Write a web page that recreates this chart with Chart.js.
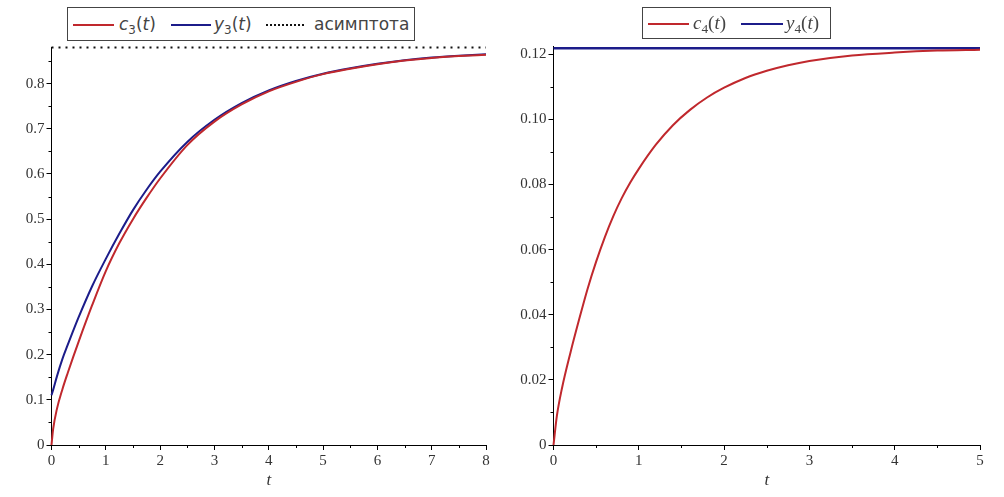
<!DOCTYPE html>
<html><head><meta charset="utf-8">
<script src="https://cdn.jsdelivr.net/npm/chart.js@4"></script>
<style>
html,body{margin:0;padding:0;background:#fff;}
#wrap{position:relative;width:1004px;height:497px;overflow:hidden;background:#fff;}
.cv{position:absolute;top:0;height:497px;}
.legend{position:absolute;border:1px solid #444;background:#fff;box-sizing:border-box;color:#444;}
.legend span{position:absolute;top:0;white-space:nowrap;}
.sw{position:absolute;height:0;border-top:2px solid;}
.dots{position:absolute;height:0;border-top:2px dotted #111;}
.sans{font-family:"DejaVu Sans",sans-serif;font-size:17px;}
.serif{font-family:"Liberation Serif","Times New Roman","DejaVu Serif",serif;font-size:19px;}
i{font-style:italic;}
sub{font-size:70%;vertical-align:-0.3em;line-height:0;}
</style></head>
<body><div id="wrap">
<div class="cv" style="left:0;width:500px"><canvas id="c1"></canvas></div>
<div class="cv" style="left:500px;width:504px"><canvas id="c2"></canvas></div>
<div class="legend" style="left:67px;top:7px;width:348px;height:34px;">
  <div class="sw" style="left:5px;width:41px;top:16px;border-color:#c0282d"></div>
  <span class="sans" style="left:51px;line-height:32px"><i>c</i><sub>3</sub>(<i>t</i>)</span>
  <div class="sw" style="left:103px;width:40px;top:16px;border-color:#1c1c8a"></div>
  <span class="sans" style="left:146px;line-height:32px"><i>y</i><sub>3</sub>(<i>t</i>)</span>
  <div class="dots" style="left:198px;width:38px;top:16px"></div>
  <span class="sans" style="left:246px;line-height:32px">асимптота</span>
</div>
<div class="legend" style="left:642px;top:7px;width:189px;height:32px;">
  <div class="sw" style="left:5px;width:41px;top:15px;border-color:#c0282d"></div>
  <span class="serif" style="left:50px;line-height:30px"><i>c</i><sub>4</sub>(<i>t</i>)</span>
  <div class="sw" style="left:98px;width:42px;top:15px;border-color:#1c1c8a"></div>
  <span class="serif" style="left:143px;line-height:30px"><i>y</i><sub>4</sub>(<i>t</i>)</span>
</div>
</div>
<script>
// ---- data ----
const t3 = [0, 0.03, 0.1, 0.2, 0.3, 0.4, 0.5, 0.75, 1, 1.25, 1.5, 1.75, 2, 2.5, 3, 3.5, 4, 4.5, 5, 5.5, 6, 6.5, 7, 7.5, 8];
const c3 = [0, 0.035, 0.08, 0.123, 0.16, 0.195, 0.229, 0.31, 0.385, 0.447, 0.5, 0.547, 0.59, 0.664, 0.716, 0.754, 0.783, 0.804, 0.821, 0.833, 0.843, 0.851, 0.857, 0.861, 0.864];
const y3 = [0.11, 0.122, 0.152, 0.19, 0.222, 0.253, 0.283, 0.352, 0.412, 0.468, 0.52, 0.565, 0.605, 0.671, 0.72, 0.757, 0.785, 0.806, 0.822, 0.834, 0.844, 0.852, 0.858, 0.862, 0.865];
const asymT = [0, 8];
const asymV = [0.88, 0.88];

const t4 = [0, 0.04, 0.1, 0.2, 0.3, 0.4, 0.5, 0.6, 0.7, 0.8, 0.9, 1, 1.2, 1.4, 1.6, 1.8, 2, 2.25, 2.5, 2.75, 3, 3.5, 4, 4.5, 5];
const c4 = [0, 0.009, 0.0175, 0.0285, 0.0385, 0.048, 0.0563, 0.0637, 0.0702, 0.0758, 0.0806, 0.0848, 0.0922, 0.0982, 0.1029, 0.1067, 0.1097, 0.1127, 0.1149, 0.1166, 0.1179, 0.1196, 0.1205, 0.1211, 0.1214];
const y4T = [0, 5];
const y4V = [0.1218, 0.1218];

// ---- ticks ----
const leftXTicks = [0, 1, 2, 3, 4, 5, 6, 7, 8];
const leftXLabels = ['0', '1', '2', '3', '4', '5', '6', '7', '8'];
const leftXMinor = [0.5, 1.5, 2.5, 3.5, 4.5, 5.5, 6.5, 7.5];
const leftYTicks = [0, 0.1, 0.2, 0.3, 0.4, 0.5, 0.6, 0.7, 0.8];
const leftYLabels = ['0', '0.1', '0.2', '0.3', '0.4', '0.5', '0.6', '0.7', '0.8'];
const leftYMinor = [0.05, 0.15, 0.25, 0.35, 0.45, 0.55, 0.65, 0.75, 0.85];

const rightXTicks = [0, 1, 2, 3, 4, 5];
const rightXLabels = ['0', '1', '2', '3', '4', '5'];
const rightXMinor = [0.5, 1.5, 2.5, 3.5, 4.5];
const rightYTicks = [0, 0.02, 0.04, 0.06, 0.08, 0.10, 0.12];
const rightYLabels = ['0', '0.02', '0.04', '0.06', '0.08', '0.10', '0.12'];
const rightYMinor = [0.01, 0.03, 0.05, 0.07, 0.09, 0.11];

const RED = '#c0282d', BLUE = '#1c1c8a';
const SERIF = 'Liberation Serif, "Times New Roman", "DejaVu Serif", serif';
const tickFont = {family: SERIF, size: 15};
const tickColor = '#333';

function pts(xs, ys) { return xs.map((x, i) => ({x, y: ys[i]})); }

const minorTicks = {
  id: 'minorTicks',
  afterDraw(chart, args, opts) {
    const ctx = chart.ctx;
    ctx.save();
    ctx.strokeStyle = '#000';
    ctx.lineWidth = 1;
    for (const id of Object.keys(opts.ticks || {})) {
      const s = chart.scales[id];
      opts.ticks[id].forEach(v => {
        const p = Math.round(s.getPixelForValue(v)) + 0.5;
        ctx.beginPath();
        if (s.isHorizontal()) { ctx.moveTo(p, s.top); ctx.lineTo(p, s.top + 3); }
        else { ctx.moveTo(s.right, p); ctx.lineTo(s.right - 3, p); }
        ctx.stroke();
      });
    }
    ctx.restore();
  }
};

function axis(min, max, ticks, labels, fit, extra) {
  return Object.assign({
    type: 'linear', min, max,
    afterBuildTicks: s => { s.ticks = ticks.map(v => ({value: v})); },
    ticks: {callback: (v, i) => labels[i], font: tickFont, color: tickColor, padding: 2, autoSkip: false, maxRotation: 0},
    grid: {drawOnChartArea: false, drawTicks: true, tickLength: 5, color: '#000', tickColor: '#000'},
    border: {display: true, color: '#000', width: 1},
    afterFit: fit
  }, extra || {});
}

const xTitle = {display: true, text: 't', color: '#333', font: {family: SERIF, style: 'italic', size: 17}, padding: {top: 0, bottom: 6}};

function makeChart(id, datasets, xs, ys, pad, yWidth, minor) {
  return new Chart(document.getElementById(id), {
    type: 'line',
    data: {datasets},
    options: {
      responsive: true, maintainAspectRatio: false, animation: false,
      layout: {padding: pad},
      plugins: {legend: {display: false}, tooltip: {enabled: false}, minorTicks: {ticks: minor}},
      elements: {point: {radius: 0}, line: {cubicInterpolationMode: 'monotone'}},
      scales: {
        x: axis(xs.min, xs.max, xs.ticks, xs.labels, s => { s.height = 52; }, {title: xTitle}),
        y: axis(ys.min, ys.max, ys.ticks, ys.labels, s => { s.width = yWidth; })
      }
    },
    plugins: [minorTicks]
  });
}

makeChart('c1', [
  {data: pts(asymT, asymV), borderColor: '#111', borderWidth: 2, borderDash: [2, 5], clip: false},
  {data: pts(t3, c3), borderColor: RED, borderWidth: 2, clip: false},
  {data: pts(t3, y3), borderColor: BLUE, borderWidth: 2, clip: false}
], {min: 0, max: 8, ticks: leftXTicks, labels: leftXLabels},
   {min: 0, max: 0.88, ticks: leftYTicks, labels: leftYLabels},
   {top: 47.5, right: 14, left: 0, bottom: 0}, 51.5, {x: leftXMinor, y: leftYMinor});

makeChart('c2', [
  {data: pts(t4, c4), borderColor: RED, borderWidth: 2, clip: false},
  {data: pts(y4T, y4V), borderColor: BLUE, borderWidth: 2.5, clip: false}
], {min: 0, max: 5, ticks: rightXTicks, labels: rightXLabels},
   {min: 0, max: 0.1223, ticks: rightYTicks, labels: rightYLabels},
   {top: 46.7, right: 24, left: 0, bottom: 0}, 53.5, {x: rightXMinor, y: rightYMinor});
</script>
</body></html>
